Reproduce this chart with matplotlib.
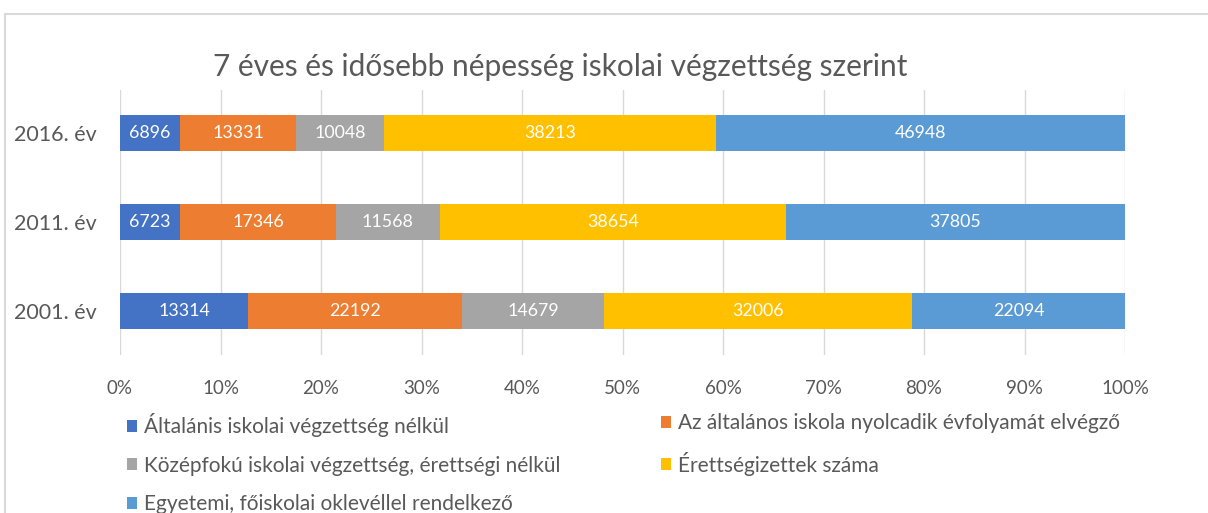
import matplotlib
matplotlib.use("Agg")
import matplotlib.pyplot as plt
import numpy as np
from matplotlib.lines import Line2D
from matplotlib.patches import Patch

plt.rcParams['font.family'] = ['Lato', 'DejaVu Sans']

years = ["2001. év", "2011. év", "2016. év"]
series_names = [
    "Általánis iskolai végzettség nélkül",
    "Az általános iskola nyolcadik évfolyamát elvégző",
    "Középfokú iskolai végzettség, érettségi nélkül",
    "Érettségizettek száma",
    "Egyetemi, főiskolai oklevéllel rendelkező",
]
no_school = [13314, 6723, 6896]
eighth_grade = [22192, 17346, 13331]
secondary = [14679, 11568, 10048]
matura = [32006, 38654, 38213]
university = [22094, 37805, 46948]
colors = ["#4472C4", "#ED7D31", "#A5A5A5", "#FFC000", "#5B9BD5"]
title = "7 éves és idősebb népesség iskolai végzettség szerint"

data = np.array([no_school, eighth_grade, secondary, matura, university], dtype=float)
totals = data.sum(axis=0)
shares = data / totals

W, H = 1208, 513
fig = plt.figure(figsize=(W / 100, H / 100), dpi=100)
ax = fig.add_axes([120 / W, 1 - 355 / H, (1125 - 120) / W, (355 - 90) / H])

ypos = np.arange(len(years))
left = np.zeros(len(years))
text_col = "#595959"
for i in range(len(series_names)):
    bars = ax.barh(ypos, shares[i], left=left, height=0.40, color=colors[i],
                   label=series_names[i], zorder=3)
    for j, b in enumerate(bars):
        ax.text(left[j] + shares[i][j] / 2, ypos[j], f"{int(data[i][j])}",
                ha="center", va="center", color="white", fontsize=12.8, zorder=4)
    left = left + shares[i]

ax.set_xlim(0, 1)
ax.set_ylim(-0.494, 2.483)
ax.set_xticks(np.linspace(0, 1, 11))
ax.set_xticklabels([f"{int(round(v * 100))}%" for v in np.linspace(0, 1, 11)])
ax.set_yticks(ypos)
ax.set_yticklabels(years)
ax.tick_params(axis='both', length=0, colors=text_col)
ax.tick_params(axis='x', pad=18, labelsize=13.5)
ax.tick_params(axis='y', pad=17, labelsize=15.5)
for s in ax.spines.values():
    s.set_visible(False)
ax.grid(axis='x', color="#D9D9D9", linewidth=1, zorder=0)
ax.set_axisbelow(True)

fig.text(560 / W, 1 - 67 / H, title, ha="center", va="center", color=text_col,
         fontsize=21.5)

handles = [Patch(facecolor=c, edgecolor='none') for c in colors]
legend_kw = dict(loc="upper left", frameon=False, fontsize=15, handlelength=0.5,
                 handleheight=0.5, handletextpad=0.3, labelspacing=0.9,
                 borderaxespad=0, borderpad=0)
leg1 = fig.legend([handles[k] for k in (0, 2, 4)], [series_names[k] for k in (0, 2, 4)],
                  bbox_to_anchor=(127 / W, 1 - 413 / H), **legend_kw)
leg2 = fig.legend([handles[k] for k in (1, 3)], [series_names[k] for k in (1, 3)],
                  bbox_to_anchor=(661 / W, 1 - 413 / H), **legend_kw)
for leg in (leg1, leg2):
    for t in leg.get_texts():
        t.set_color(text_col)

fig.add_artist(Line2D([5 / W, 5 / W], [0, 1 - 14 / H], color="#D9D9D9", linewidth=1.5))
fig.add_artist(Line2D([5 / W, 1], [1 - 14 / H, 1 - 14 / H], color="#D9D9D9", linewidth=1.5))

fig.savefig("out.png", dpi=100, facecolor="white")
